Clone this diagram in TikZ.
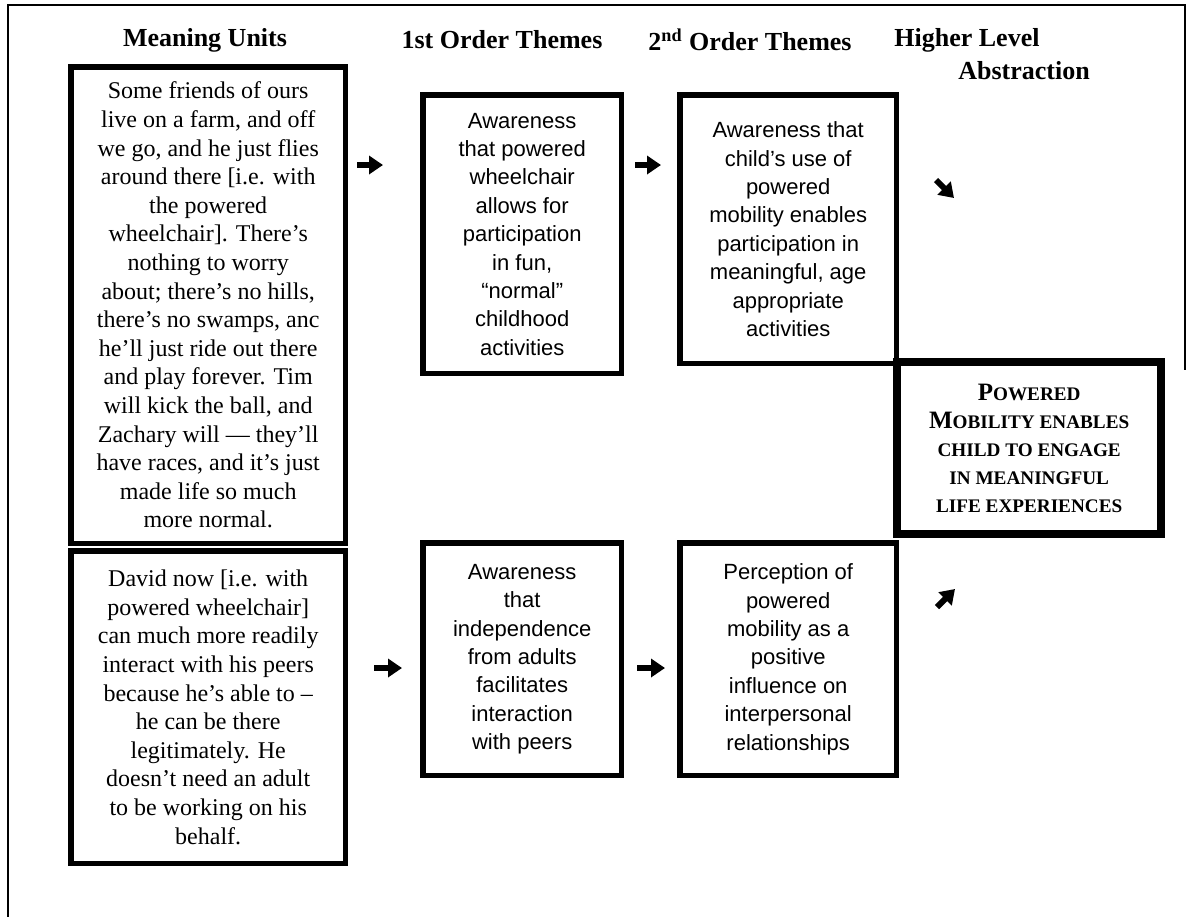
\documentclass[tikz,border=0pt]{standalone}
\usepackage{fontspec}
\setmainfont{Liberation Serif}
\newfontfamily\themefont{Liberation Sans}
\usetikzlibrary{arrows.meta,positioning}
\tikzset{>=Latex}
\newcommand{\hlcap}[1]{{\fontsize{12.5}{12.5}\selectfont #1}}

\begin{document}
\begin{tikzpicture}[
    x = 0.5pt, y = -0.5pt,
    frame/.style = {line width = 0.8pt},
    head/.style = {font = \fontsize{13}{15}\selectfont\bfseries, inner sep = 0pt},
    box/.style = {draw, line width = 2.2pt, anchor = north west, align = center, inner sep = 0pt},
    mubox/.style = {box, font = \fontsize{12}{14.3}\selectfont},
    thbox/.style = {box, font = \themefont\fontsize{11}{14.2}\selectfont},
    hlbox/.style = {draw, line width = 4.2pt, anchor = north west, align = center, inner sep = 0pt,
                    font = \fontsize{9.6}{14}\selectfont\bfseries},
    inner/.style = {line width = 0.7pt},
    arr/.style = {line width = 3pt, -{Triangle[length = 7pt, width = 9pt]}}
]
\useasboundingbox (0,0) rectangle (1191,917);

% page frame
\draw[frame] (8,917) -- (8,5) -- (1185,5) -- (1185,370);

% column heads
\node[head] (h1) at (205,40) {Meaning Units};
\node[head] (h2) at (502,40) {1st Order Themes};
\node[head] (h3) at (750,40) {2\textsuperscript{nd} Order Themes};
\node[head, anchor = west] (h4) at (894,40) {Higher Level};
\node[head, anchor = west] (h5) at (958,71) {Abstraction};

% meaning units
\node[mubox, minimum width = 138pt, minimum height = 239pt] (mua) at (68,64) {%
Some friends of ours\\ live on a farm, and off\\ we go, and he just flies\\
around there [i.e. with\\ the powered\\ wheelchair]. There’s\\ nothing to worry\\
about; there’s no hills,\\ there’s no swamps, anc\\ he’ll just ride out there\\
and play forever. Tim\\ will kick the ball, and\\ Zachary will — they’ll\\
have races, and it’s just\\ made life so much\\ more normal.};
\node[mubox, minimum width = 138pt, minimum height = 157pt] (mub) at (68,548) {%
David now [i.e. with\\ powered wheelchair]\\ can much more readily\\
interact with his peers\\ because he’s able to –\\ he can be there\\
legitimately. He\\ doesn’t need an adult\\ to be working on his\\ behalf.};

% 1st order themes
\node[thbox, minimum width = 100pt, minimum height = 140pt] (fota) at (420,92) {%
Awareness\\ that powered\\ wheelchair\\ allows for\\ participation\\ in fun,\\
“normal”\\ childhood\\ activities};
\node[thbox, minimum width = 100pt, minimum height = 117pt] (fotb) at (420,540) {%
Awareness\\ that\\ independence\\ from adults\\ facilitates\\ interaction\\ with peers};

% 2nd order themes
\node[thbox, minimum width = 109pt, minimum height = 135pt] (sota) at (677,92) {%
Awareness that\\ child’s use of\\ powered\\ mobility enables\\ participation in\\
meaningful, age\\ appropriate\\ activities};
\node[thbox, minimum width = 109pt, minimum height = 117pt] (sotb) at (677,540) {%
Perception of\\ powered\\ mobility as a\\ positive\\ influence on\\ interpersonal\\ relationships};

% higher level abstraction
\node[hlbox, minimum width = 132pt, minimum height = 86pt] (hla) at (893,358) {%
\hlcap{P}OWERED\\ \hlcap{M}OBILITY ENABLES\\ CHILD TO ENGAGE\\ IN MEANINGFUL\\ LIFE EXPERIENCES};

% inner rules of the double frames
\foreach \n in {mua, mub, fota, fotb, sota, sotb}
  \draw[inner] ([shift = {(5,5)}]\n.north west) rectangle ([shift = {(-5,-5)}]\n.south east);

% arrows
\draw[arr] (357,165) -- ++(26,0);
\draw[arr] (635,165) -- ++(26,0);
\draw[arr] (374,668) -- ++(28,0);
\draw[arr] (637,668) -- ++(28,0);
\draw[arr] (936,180) -- ++(18,18);
\draw[arr] (937,607) -- ++(18,-18);

\end{tikzpicture}
\end{document}
